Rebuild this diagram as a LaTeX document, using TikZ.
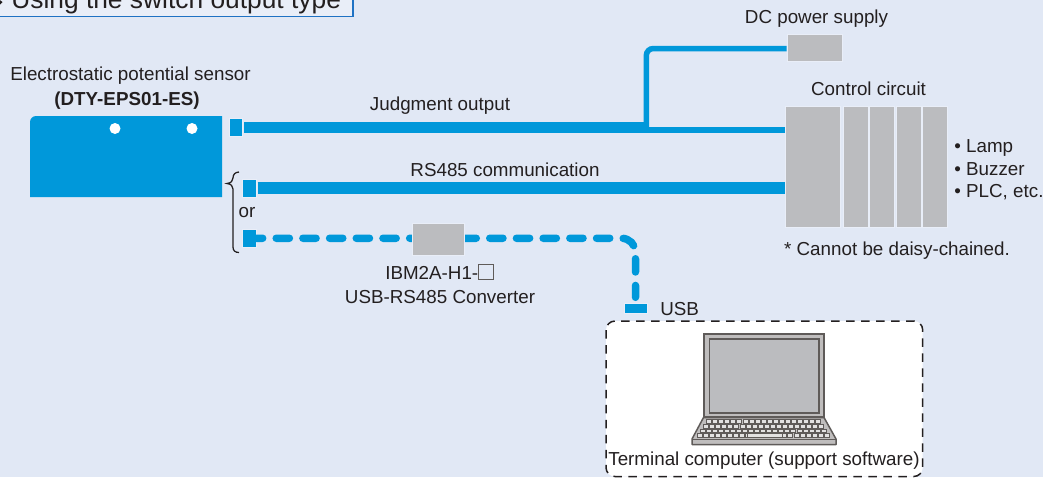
\documentclass[tikz,border=0pt]{standalone}
\usepackage{fontspec}
\setmainfont{Liberation Sans}
\usetikzlibrary{calc}

\definecolor{panelbg}{HTML}{E1E8F5}
\definecolor{glowedge}{HTML}{E9EEF8}
\definecolor{linkblue}{HTML}{0098DA}
\definecolor{unitgray}{HTML}{BBBCBF}
\definecolor{inkdark}{HTML}{231F20}
\definecolor{framegray}{HTML}{5F5B59}
\definecolor{titleblue}{HTML}{1F72C4}

\newcommand{\suffixbox}{{\color{framegray}\setlength{\fboxsep}{0pt}\setlength{\fboxrule}{0.4pt}\fbox{\rule{0pt}{8pt}\rule{8pt}{0pt}}}}

\begin{document}
\begin{tikzpicture}[
        x=0.02cm, y=-0.02cm,
        font=\fontsize{10.7}{13}\selectfont,
        label/.style={text=inkdark, inner sep=0pt},
        unitbox/.style={fill=unitgray, draw=glowedge, line width=0.02cm, inner sep=0pt, anchor=north west},
        portbox/.style={fill=linkblue, draw=glowedge, line width=0.01cm, inner sep=0pt, anchor=north west},
        widelink/.style={draw=linkblue, line width=0.23cm},
        thinlink/.style={draw=linkblue, line width=0.11cm},
        dashlink/.style={draw=linkblue, line width=0.15cm, line cap=round, dash pattern=on 0.264cm off 0.27cm, dash phase=0.13cm, rounded corners=0.28cm},
        keycap/.style={draw=framegray, fill=framegray!18, line width=0.35pt}
    ]
        % --- Fondo ---
        \useasboundingbox (0,0) rectangle (1043,477);
        \clip (0,0) rectangle (1043,477);
        \fill[panelbg] (0,0) rectangle (1043,477);

        % --- Titulo ---
        \draw[titleblue, line width=0.03cm, fill=glowedge] (-5,-5) rectangle (353,16.5);
        \fill[inkdark] (-3,-2) -- (2.5,2) -- (-3,8) -- cycle;
        \node[label, anchor=base west, font=\fontsize{15}{17}\selectfont] (title) at (11,8) {Using the switch output type};

        % --- Sensor ---
        \fill[linkblue, rounded corners=0.12cm] (30,197) -- (30,116) -- (100,116) [sharp corners] -- (222,116) -- (222,197) -- cycle;
        \fill[white] (115,128.5) circle (0.11cm);
        \fill[white] (192,128.5) circle (0.11cm);
        \node[label] (sensorname) at (130.5,76) {Electrostatic potential sensor};
        \node[label, font=\fontsize{10.7}{13}\selectfont\bfseries] (sensormodel) at (127,101) {(DTY-EPS01-ES)};

        % --- Conectores del sensor ---
        \node[portbox, minimum width=0.27cm, minimum height=0.36cm] (portjudge) at (228.5,118) {};
        \node[portbox, minimum width=0.27cm, minimum height=0.37cm] (portrs) at (242,178.5) {};
        \node[portbox, minimum width=0.27cm, minimum height=0.36cm] (portconv) at (242,229) {};

        % --- Unidades grises ---
        \node[unitbox, minimum width=1.11cm, minimum height=0.55cm] (dcpower) at (786.5,34) {};
        \node[unitbox, minimum width=1.1cm, minimum height=2.42cm] (ctrlmain) at (785,106) {};
        \foreach \slotx/\slotname in {842.5/ctrla, 869/ctrlb, 895.5/ctrlc, 922/ctrld}
            \node[unitbox, minimum width=0.5cm, minimum height=2.42cm] (\slotname) at (\slotx,106) {};
        \node[label] (dclabel) at (816.5,19) {DC power supply};
        \node[label] (ctrllabel) at (868.5,89) {Control circuit};
        \node[label, anchor=north west, align=left, font=\fontsize{10.7}{12.8}\selectfont] (outputs) at (954,139.5) {• Lamp\\• Buzzer\\• PLC, etc.};
        \node[label] (chainnote) at (897,251) {* Cannot be daisy-chained.};

        % --- Lineas de senal ---
        \coordinate (branchtop) at (646.3,127.5);
        \coordinate (branchlow) at (646.3,130);
        \draw[widelink] ([xshift=0.03cm]portjudge.east) -- (branchtop |- portjudge.east);
        \draw[thinlink] (branchlow) -- (branchlow -| ctrlmain.west);
        \draw[thinlink, rounded corners=0.14cm] (branchtop) -- (646.3,48.5) -- (dcpower.west |- 646.3,48.5);
        \draw[widelink] ([xshift=0.03cm]portrs.east) -- (portrs.east -| ctrlmain.west);
        \node[label] (judgelabel) at (440,106) {Judgment output};
        \node[label] (rslabel) at (505,170) {RS485 communication};

        % --- Llave "or" ---
        \draw[inkdark, line width=0.025cm] (239,172) .. controls (235,172.3) and (233,174.5) .. (233,178) .. controls (233,181) and (231,183) .. (227,183.5) .. controls (231,184) and (233,186) .. (233,189) -- (233,247) .. controls (233,250.5) and (235,252.5) .. (239,252.5);
        \node[label] (orlabel) at (247,213) {or};

        % --- Convertidor y USB ---
        \node[portbox, minimum width=0.45cm, minimum height=0.2cm] (usbport) at (624,303.3) {};
        \draw[dashlink] (portconv.east) -- (usbport.north |- portconv.east) -- ([yshift=0.12cm]usbport.north);
        \node[unitbox, minimum width=1.05cm, minimum height=0.64cm] (converter) at (411.7,223.3) {};
        \node[label] (convmodel) at (439.5,272) {IBM2A-H1-\suffixbox};
        \node[label] (convname) at (440,297) {USB-RS485 Converter};
        \node[label, anchor=west] (usblabel) at (660,309) {USB};

        % --- Computador ---
        \draw[inkdark, fill=white, dashed, line width=0.03cm, rounded corners=0.18cm, dash pattern=on 0.17cm off 0.13cm] (606,321) rectangle (922.7,476.5);
        \fill[framegray!40, draw=framegray, line width=0.04cm] (703.5,334) rectangle (824,417);
        \fill[unitgray, draw=framegray, line width=0.03cm] (709.5,339) rectangle (819,413);
        \fill[framegray!40, draw=framegray, line width=0.03cm, line join=round] (703.5,417.5) -- (824,417.5) -- (836,439) -- (836,444.5) -- (692,444.5) -- (692,439) -- cycle;
        \draw[framegray, line width=0.02cm] (692,439) -- (836,439);
        \foreach \rowy/\rowx/\rowcount in {419.7/706.5/19, 424.4/703.5/20, 429/700/21, 433.6/697/22}
            \foreach \keyi in {1,...,\rowcount}
                \draw[keycap] ({\rowx+(\keyi-1)*6.05},\rowy) rectangle ++(5,3.6);
        \draw[keycap] (747,433.6) rectangle (782,437.2);
        \node[label] (pclabel) at (764,461) {Terminal computer (support software)};
    \end{tikzpicture}
\end{document}
